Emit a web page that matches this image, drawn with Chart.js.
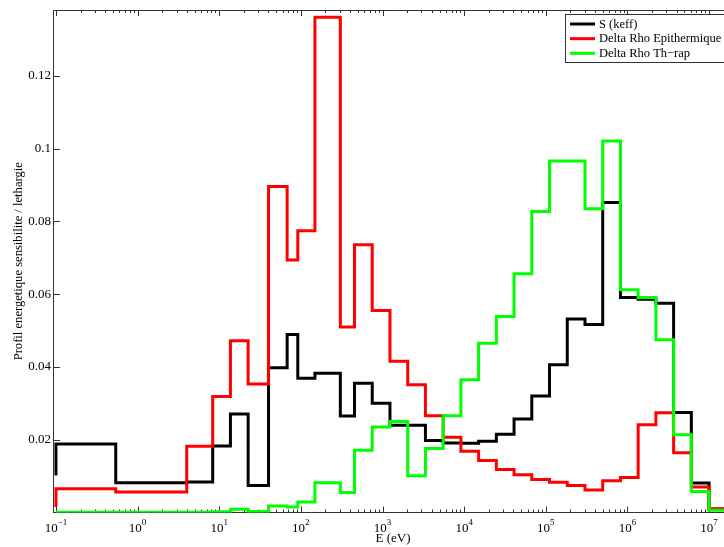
<!DOCTYPE html>
<html>
<head>
<meta charset="utf-8">
<title>Profil energetique sensibilite / lethargie</title>
<script src="https://cdn.jsdelivr.net/npm/chart.js@4.4.1/dist/chart.umd.min.js"></script>
<style>
    html, body { margin: 0; padding: 0; background: #fff; overflow: hidden; }
    #wrap { position: absolute; left: 0; top: 0; width: 760px; height: 547px; }
</style>
</head>
<body>
<div id="wrap"><canvas id="sensChart" width="760" height="547"></canvas></div>
<script>
// Group boundaries in eV (33 group structure, groups above 0.1 eV)
const energyBounds = [0.1, 0.54, 4.0, 8.315, 13.71, 22.6, 40.17, 67.9, 91.66, 148.6,
    304.3, 454.0, 748.5, 1234, 2035, 3355, 5531, 9119, 15030, 24790,
    40870, 67380, 111100, 183200, 302000, 497900, 820900, 1353000, 2231000, 3679000,
    6065000, 10000000, 19640000];

// value[i] holds for the group ending at energyBounds[i]; value[0] is the start of the step
const sKeff = [0.0102, 0.0188, 0.0082, 0.0084, 0.0183, 0.0271, 0.0074, 0.0398, 0.0489, 0.0369,
    0.0383, 0.0265, 0.0355, 0.0300, 0.0240, 0.0240, 0.0198, 0.0191, 0.0190, 0.0196,
    0.0215, 0.0257, 0.0320, 0.0406, 0.0532, 0.0517, 0.0852, 0.0591, 0.0586, 0.0575,
    0.0275, 0.0081, 0.0009];
const deltaRhoEpi = [0.0015, 0.0065, 0.0056, 0.0182, 0.0319, 0.0472, 0.0353, 0.0896, 0.0694, 0.0774,
    0.1361, 0.0510, 0.0736, 0.0555, 0.0416, 0.0351, 0.0266, 0.0207, 0.0168, 0.0143,
    0.0118, 0.0104, 0.0091, 0.0083, 0.0074, 0.0062, 0.0087, 0.0096, 0.0241, 0.0274,
    0.0164, 0.0070, 0.0010];
const deltaRhoTh = [0.0001, 0.0001, 0.0001, 0.0001, 0.0002, 0.0009, 0.0003, 0.0018, 0.0015, 0.0029,
    0.0082, 0.0055, 0.0171, 0.0235, 0.0250, 0.0101, 0.0176, 0.0266, 0.0365, 0.0465,
    0.0539, 0.0656, 0.0827, 0.0966, 0.0966, 0.0835, 0.1021, 0.0612, 0.0591, 0.0475,
    0.0214, 0.0058, 0.0006];

const seriesLabels = ['S (keff)', 'Delta Rho Epithermique', 'Delta Rho Th\u2212rap'];
const seriesColors = ['#000000', '#ff0000', '#00ff00'];
const yTickValues = [0.02, 0.04, 0.06, 0.08, 0.1, 0.12];
const xDecades = [-1, 0, 1, 2, 3, 4, 5, 6, 7];
const xTitle = 'E (eV)';
const yTitle = 'Profil energetique sensibilite / lethargie';

const serif = "'Liberation Serif', 'Times New Roman', serif";
const axisColor = '#333333';

function toPoints(values) {
    return energyBounds.map(function(e, i) {
        return { x: e, y: values[i] };
    });
}

// frame, inward ticks, log labels and axis titles
const framePlugin = {
    id: 'frame',
    beforeDatasetsDraw: function(chart) {
        const ctx = chart.ctx;
        const a = chart.chartArea;
        const xs = chart.scales.x;
        const ys = chart.scales.y;
        ctx.save();
        ctx.strokeStyle = axisColor;
        ctx.lineWidth = 1;
        ctx.beginPath();
        ctx.moveTo(a.left + 0.5, a.bottom);
        ctx.lineTo(a.left + 0.5, a.top + 0.5);
        ctx.lineTo(a.right, a.top + 0.5);
        ctx.moveTo(a.left, a.bottom);
        ctx.lineTo(a.right, a.bottom);

        // log ticks, top and bottom
        for (let n = -2; n <= 7; n++) {
            for (let m = 1; m <= 9; m++) {
                const v = m * Math.pow(10, n);
                if (v < xs.min || v > xs.max) continue;
                const px = Math.round(xs.getPixelForValue(v)) + 0.5;
                const len = m === 1 ? 6 : 3;
                ctx.moveTo(px, a.bottom);
                ctx.lineTo(px, a.bottom - len);
                ctx.moveTo(px, a.top);
                ctx.lineTo(px, a.top + len);
            }
        }
        // y ticks
        yTickValues.forEach(function(v) {
            const py = Math.round(ys.getPixelForValue(v)) + 0.5;
            ctx.moveTo(a.left, py);
            ctx.lineTo(a.left + 7, py);
        });
        ctx.stroke();

        // x labels as 10^n
        ctx.fillStyle = '#000';
        ctx.textBaseline = 'alphabetic';
        ctx.textAlign = 'left';
        xDecades.forEach(function(d) {
            const px = xs.getPixelForValue(Math.pow(10, d));
            const exp = d < 0 ? '\u2212' + Math.abs(d) : String(d);
            ctx.font = '13px ' + serif;
            const w10 = ctx.measureText('10').width;
            ctx.font = '9px ' + serif;
            const wExp = ctx.measureText(exp).width;
            const start = px - (w10 + wExp) / 2;
            ctx.font = '13px ' + serif;
            ctx.fillText('10', start, a.bottom + 19);
            ctx.font = '9px ' + serif;
            ctx.fillText(exp, start + w10, a.bottom + 12);
        });

        // axis titles
        ctx.font = '13px ' + serif;
        ctx.textAlign = 'center';
        ctx.fillText(xTitle, (a.left + a.right) / 2, a.bottom + 29);

        ctx.translate(19, (a.top + a.bottom) / 2);
        ctx.rotate(-Math.PI / 2);
        ctx.font = '12.6px ' + serif;
        ctx.textBaseline = 'middle';
        ctx.fillText(yTitle, 0, 0);
        ctx.restore();
    },
    afterDraw: function(chart) {
        // legend box in the upper right corner
        const ctx = chart.ctx;
        const boxX = 565.5, boxY = 14.5, boxW = 166, boxH = 48;
        ctx.save();
        ctx.fillStyle = '#fff';
        ctx.fillRect(boxX, boxY, boxW, boxH);
        ctx.strokeStyle = axisColor;
        ctx.lineWidth = 1;
        ctx.strokeRect(boxX, boxY, boxW, boxH);
        ctx.font = '12.5px ' + serif;
        ctx.textBaseline = 'middle';
        ctx.textAlign = 'left';
        seriesLabels.forEach(function(label, i) {
            const y = 24 + i * 14.65;
            ctx.strokeStyle = seriesColors[i];
            ctx.lineWidth = 3;
            ctx.beginPath();
            ctx.moveTo(570, y);
            ctx.lineTo(595, y);
            ctx.stroke();
            ctx.fillStyle = '#000';
            ctx.fillText(label, 599, y + 0.5);
        });
        ctx.restore();
    }
};

const ctx = document.getElementById('sensChart');
const chart = new Chart(ctx, {
    type: 'line',
    data: {
        datasets: [
            { label: seriesLabels[0], data: toPoints(sKeff), borderColor: seriesColors[0], order: 3 },
            { label: seriesLabels[1], data: toPoints(deltaRhoEpi), borderColor: seriesColors[1], order: 2 },
            { label: seriesLabels[2], data: toPoints(deltaRhoTh), borderColor: seriesColors[2], order: 1 }
        ]
    },
    options: {
        responsive: false,
        animation: false,
        devicePixelRatio: 1,
        layout: { padding: { left: 0, right: 27, top: 10, bottom: 0 } },
        elements: {
            line: { borderWidth: 3, stepped: 'after', fill: false, tension: 0, borderJoinStyle: 'miter' },
            point: { radius: 0, hoverRadius: 0 }
        },
        plugins: {
            legend: { display: false },
            tooltip: { enabled: false }
        },
        scales: {
            x: {
                type: 'logarithmic',
                min: 0.092,
                max: 19640000,
                grid: { display: false },
                border: { display: false },
                ticks: { display: false },
                afterFit: function(scale) { scale.height = 34.5; }
            },
            y: {
                type: 'linear',
                min: 0,
                max: 0.1381,
                grid: { display: false, drawTicks: false },
                border: { display: false },
                afterBuildTicks: function(scale) {
                    scale.ticks = yTickValues.map(function(v) { return { value: v }; });
                },
                ticks: {
                    color: '#000',
                    padding: 2,
                    font: { family: serif, size: 13 },
                    callback: function(value) { return String(value); }
                },
                afterFit: function(scale) { scale.width = 53; }
            }
        }
    },
    plugins: [framePlugin]
});
</script>
</body>
</html>
